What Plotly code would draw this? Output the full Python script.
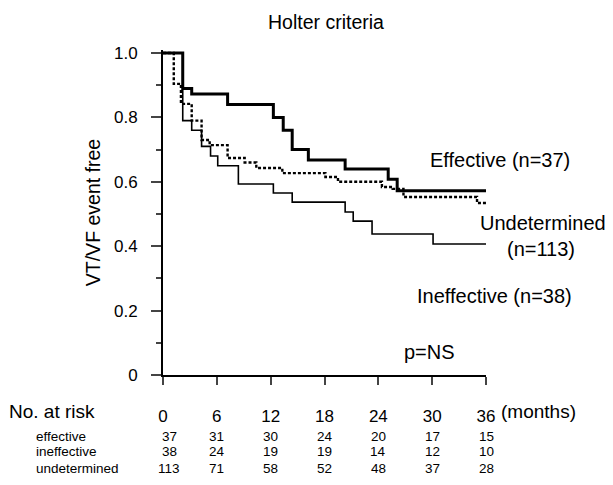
import plotly.graph_objects as go

# ---- data ----
months_effective = [0, 2.2, 3.2, 7.2, 12.3, 13.4, 14.4, 16.2, 20.3, 25.1, 26.1, 36]
surv_effective = [1.0, 0.89, 0.873, 0.84, 0.80, 0.76, 0.70, 0.668, 0.64, 0.608, 0.572, 0.572]

months_ineffective = [0, 2.2, 3.2, 4.3, 5.3, 6.1, 8.4, 12.3, 14.4, 20.3, 21.2, 23.3, 30.1, 36]
surv_ineffective = [1.0, 0.79, 0.76, 0.71, 0.68, 0.65, 0.593, 0.565, 0.537, 0.506, 0.478, 0.438, 0.407, 0.407]

months_undetermined = [0, 1.2, 2.0, 3.2, 4.3, 5.2, 7.2, 9.1, 10.4, 13.3, 18.1, 19.5, 24.4, 25.6, 26.8, 35.0, 36]
surv_undetermined = [1.0, 0.904, 0.842, 0.79, 0.73, 0.714, 0.674, 0.66, 0.643, 0.627, 0.615, 0.60, 0.584, 0.578, 0.553, 0.534, 0.534]

x_ticks = [0, 6, 12, 18, 24, 30, 36]
y_ticks = [0, 0.2, 0.4, 0.6, 0.8, 1.0]
y_tick_labels = ["0", "0.2", "0.4", "0.6", "0.8", "1.0"]

risk_rows = ["effective", "ineffective", "undetermined"]
risk_effective = [37, 31, 30, 24, 20, 17, 15]
risk_ineffective = [38, 24, 19, 19, 14, 12, 10]
risk_undetermined = [113, 71, 58, 52, 48, 37, 28]

FONT = "Liberation Sans, Arial, Helvetica, sans-serif"

fig = go.Figure()
fig.add_trace(go.Scatter(x=months_effective, y=surv_effective, mode="lines",
                         line=dict(shape="hv", color="black", width=3), showlegend=False))
fig.add_trace(go.Scatter(x=months_ineffective, y=surv_ineffective, mode="lines",
                         line=dict(shape="hv", color="black", width=1.6), showlegend=False))
fig.add_trace(go.Scatter(x=months_undetermined, y=surv_undetermined, mode="lines",
                         line=dict(shape="hv", color="black", width=2.4, dash="3px,2px"),
                         showlegend=False))


def label(text, x, y, xanchor="center", size=20, yanchor="middle", xref="paper", xshift=0):
    return dict(x=x, y=y, xref=xref, yref="paper", text=text, xanchor=xanchor,
                yanchor=yanchor, showarrow=False, xshift=xshift, font=dict(size=size),
                borderpad=0)


ann = [
    label("Effective (n=37)", 1.263, 0.6615, xanchor="right"),
    label("Undetermined", 1.176, 0.4677),
    label("(n=113)", 1.170, 0.3877),
    label("Ineffective (n=38)", 1.269, 0.2431, xanchor="right"),
    label("p=NS", 0.824, 0.0708),
    label("No. at risk", -0.48, -0.1138, xanchor="left", size=19),
    label("(months)", 1.161, -0.1138, size=19),
]
row_y = [-0.1877, -0.2369, -0.2862]
for name, vals, yy in zip(risk_rows, [risk_effective, risk_ineffective, risk_undetermined], row_y):
    ann.append(label(name, -0.395, yy, xanchor="left", size=13.5))
    for i, (m, v) in enumerate(zip(x_ticks, vals)):
        ann.append(label(str(v), m, yy, xref="x", size=13.5, xshift=6 if i == 0 else 0))

fig.update_layout(
    width=605, height=477,
    margin=dict(l=155, r=127, t=42, b=110),
    paper_bgcolor="white", plot_bgcolor="white",
    font=dict(family=FONT, color="black", size=16),
    title=dict(text="Holter criteria", x=0.5256, xanchor="center", y=0.9706, yanchor="middle",
               font=dict(size=19.5)),
    annotations=ann,
    xaxis=dict(range=[0, 36], tickvals=x_ticks, ticks="outside", ticklen=8, tickwidth=2,
               showline=True, linewidth=2, linecolor="black", showgrid=False, zeroline=False,
               tickfont=dict(size=17), ticklabelstandoff=17),
    yaxis=dict(range=[0, 1.00932], tickvals=y_ticks, ticktext=y_tick_labels,
               ticks="outside", ticklen=10, tickwidth=2,
               minor=dict(tickvals=[0.1, 0.3, 0.5, 0.7, 0.9], ticks="outside", ticklen=5, tickwidth=2),
               showline=True, linewidth=2, linecolor="black", showgrid=False, zeroline=False,
               tickfont=dict(size=17), ticklabelstandoff=10,
               title=dict(text="VT/VF event free", font=dict(size=19.5), standoff=8)),
)

fig.write_html("out.html")
